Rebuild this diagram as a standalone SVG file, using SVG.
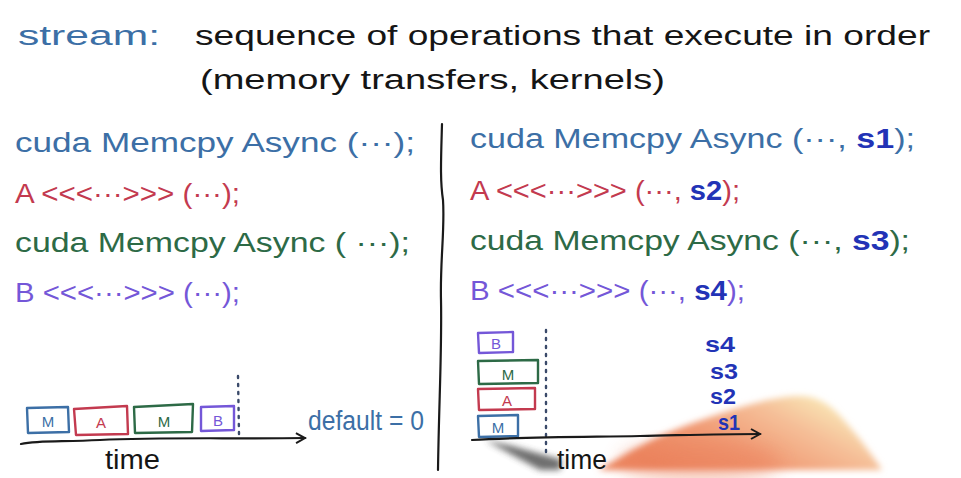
<svg xmlns="http://www.w3.org/2000/svg" width="961" height="478" viewBox="0 0 961 478">
  <style>
    .hand { font-family: "Liberation Sans", "DejaVu Sans", sans-serif; }
    .title { font-size: 27px; fill: #151515; }
    .code { font-size: 27px; }
    .blue { fill: #3c6fa6; }
    .red { fill: #c33a4f; }
    .green { fill: #2d6a46; }
    .purple { fill: #7457d8; }
    .sid { fill: #2233b6; font-weight: bold; }
    .ink { fill: none; stroke: #1a1a1a; stroke-width: 2.2; stroke-linecap: round; stroke-linejoin: round; }
    .box { fill: none; stroke-width: 2.4; stroke-linejoin: round; }
    .dots { fill: none; stroke: #3a4a6a; stroke-width: 2.4; stroke-dasharray: 2 6; stroke-linecap: round; }
    .lbl { font-size: 15px; text-anchor: middle; }
  </style>
  <defs>
    <marker id="arrow" viewBox="0 0 12 12" refX="10" refY="6" markerWidth="12" markerHeight="12" markerUnits="userSpaceOnUse" orient="auto">
      <path d="M1,1 L10,6 L1,11" fill="none" stroke="#1a1a1a" stroke-width="2"/>
    </marker>
    <linearGradient id="skin" x1="0.2" y1="0.9" x2="1" y2="0.5">
      <stop offset="0" stop-color="#ec8660"/>
      <stop offset="0.4" stop-color="#f19c76"/>
      <stop offset="0.75" stop-color="#f5bf98"/>
      <stop offset="1" stop-color="#f9e2b2"/>
    </linearGradient>
    <filter id="soft" x="-20%" y="-20%" width="140%" height="140%">
      <feGaussianBlur stdDeviation="3"/>
    </filter>
    <filter id="softer" x="-30%" y="-30%" width="160%" height="160%">
      <feGaussianBlur stdDeviation="10"/>
    </filter>
  </defs>

  <rect width="961" height="478" fill="#ffffff"/>

  <!-- heading -->
  <g id="heading" class="hand">
    <text class="title blue" x="18" y="45" font-size="30" textLength="142" lengthAdjust="spacingAndGlyphs">stream:</text>
    <text class="title" x="195" y="45" textLength="735" lengthAdjust="spacingAndGlyphs">sequence of operations that execute in order</text>
    <text class="title" x="200" y="89" textLength="465" lengthAdjust="spacingAndGlyphs">(memory transfers, kernels)</text>
  </g>

  <!-- divider -->
  <path id="divider" class="ink" d="M442,124 C441,160 440,180 443,200 C445,230 440,260 441,300 C442,350 439,400 438,470"/>

  <!-- left: default stream code -->
  <g id="left-code" class="hand code">
    <text class="blue" x="15" y="152" textLength="400" lengthAdjust="spacingAndGlyphs">cuda Memcpy Async (···);</text>
    <text class="red" x="15" y="203" textLength="225" lengthAdjust="spacingAndGlyphs">A &lt;&lt;&lt;···&gt;&gt;&gt; (···);</text>
    <text class="green" x="15" y="252" textLength="395" lengthAdjust="spacingAndGlyphs">cuda Memcpy Async ( ···);</text>
    <text class="purple" x="15" y="302" textLength="225" lengthAdjust="spacingAndGlyphs">B &lt;&lt;&lt;···&gt;&gt;&gt; (···);</text>
  </g>

  <!-- right: per-stream code -->
  <g id="right-code" class="hand code">
    <text class="blue" x="470" y="148" textLength="445" lengthAdjust="spacingAndGlyphs">cuda Memcpy Async (···, <tspan class="sid">s1</tspan>);</text>
    <text class="red" x="470" y="200" textLength="270" lengthAdjust="spacingAndGlyphs">A &lt;&lt;&lt;···&gt;&gt;&gt; (···, <tspan class="sid">s2</tspan>);</text>
    <text class="green" x="470" y="250" textLength="440" lengthAdjust="spacingAndGlyphs">cuda Memcpy Async (···, <tspan class="sid">s3</tspan>);</text>
    <text class="purple" x="470" y="300" textLength="275" lengthAdjust="spacingAndGlyphs">B &lt;&lt;&lt;···&gt;&gt;&gt; (···, <tspan class="sid">s4</tspan>);</text>
  </g>

  <!-- left timeline: everything serialized on the default stream -->
  <g id="left-timeline" class="hand">
    <path class="box" stroke="#3c6fa6" d="M27,408 L68,407 L69,432 L28,433 Z"/>
    <text class="lbl blue" x="48" y="427">M</text>
    <path class="box" stroke="#c33a4f" d="M74,409 L127,406 L128,434 L76,435 Z"/>
    <text class="lbl red" x="101" y="428">A</text>
    <path class="box" stroke="#2d6a46" d="M134,407 L193,404 L192,432 L135,433 Z"/>
    <text class="lbl green" x="164" y="427">M</text>
    <path class="box" stroke="#7457d8" d="M201,407 L234,406 L234,430 L201,431 Z"/>
    <text class="lbl purple" x="218" y="426">B</text>
    <path class="dots" d="M238,376 L239,434"/>
    <path class="ink" marker-end="url(#arrow)" d="M21,444 C40,440 60,442 100,440 C160,437 230,439 305,438"/>
    <text class="hand blue" x="308" y="430" font-size="27" textLength="116" lengthAdjust="spacingAndGlyphs">default = 0</text>
    <text class="hand title" x="105" y="469" font-size="24" textLength="55" lengthAdjust="spacingAndGlyphs">time</text>
  </g>

  <!-- writer's hand and pen, under the right timeline ink -->
  <g id="hand">
    <path fill="url(#skin)" filter="url(#soft)" d="M598,470 C625,455 650,438 690,424 C730,410 765,398 795,396 C815,395 828,402 842,418 C858,436 870,452 882,470 Z"/>
    <ellipse cx="700" cy="462" rx="80" ry="20" fill="#ea7f5a" opacity="0.45" filter="url(#softer)"/>
    <path fill="#3e3e3e" filter="url(#soft)" opacity="0.75" d="M485,440 L512,446 L562,460 L560,470 L540,470 Z"/>
  </g>

  <!-- right timeline: each operation on its own stream -->
  <g id="right-timeline" class="hand">
    <path class="box" stroke="#7457d8" d="M478,333 L513,332 L513,352 L479,353 Z"/>
    <text class="lbl purple" x="496" y="349">B</text>
    <path class="box" stroke="#2d6a46" d="M478,361 L538,360 L538,383 L479,384 Z"/>
    <text class="lbl green" x="508" y="380">M</text>
    <path class="box" stroke="#c33a4f" d="M478,389 L535,388 L535,409 L479,410 Z"/>
    <text class="lbl red" x="507" y="406">A</text>
    <path class="box" stroke="#3c6fa6" d="M478,416 L518,415 L518,436 L479,437 Z"/>
    <text class="lbl blue" x="498" y="433">M</text>
    <path class="dots" d="M546,330 L546,452"/>
    <text class="sid" x="705" y="352" font-size="22" textLength="30" lengthAdjust="spacingAndGlyphs">s4</text>
    <text class="sid" x="710" y="379" font-size="22" textLength="28" lengthAdjust="spacingAndGlyphs">s3</text>
    <text class="sid" x="710" y="404" font-size="22" textLength="26" lengthAdjust="spacingAndGlyphs">s2</text>
    <text class="sid" x="718" y="430" font-size="22" textLength="22" lengthAdjust="spacingAndGlyphs">s1</text>
    <path class="ink" marker-end="url(#arrow)" d="M472,440 C520,437 580,437 640,436 C690,435 720,434 760,434"/>
    <text class="hand title" x="557" y="469" font-size="24" textLength="50" lengthAdjust="spacingAndGlyphs">time</text>
  </g>
</svg>
